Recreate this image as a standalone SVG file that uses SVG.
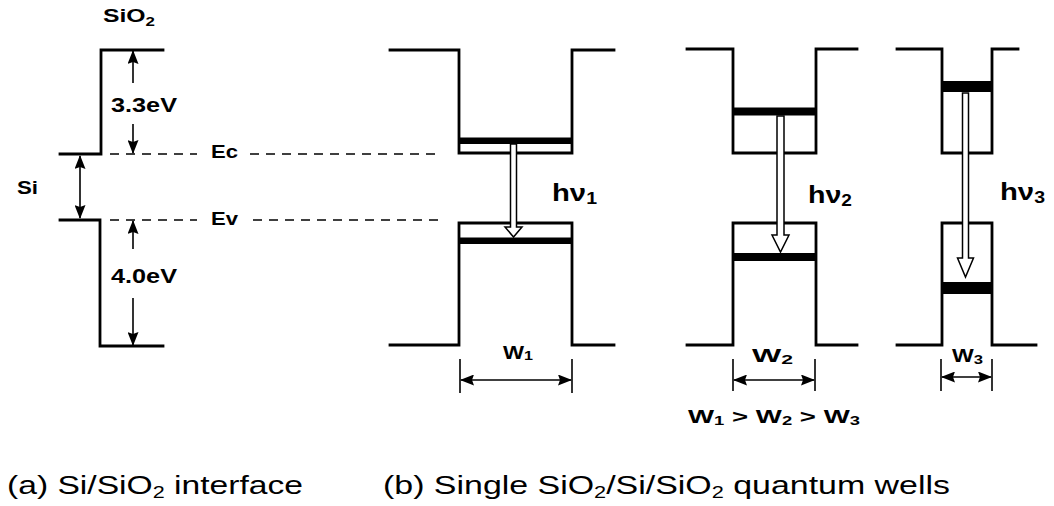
<svg xmlns="http://www.w3.org/2000/svg" width="1054" height="506" viewBox="0 0 1054 506">
<defs>
<style>
.ln{fill:none;stroke:#000;stroke-width:2.8;stroke-linecap:square}
.dash{fill:none;stroke:#000;stroke-width:1.5;stroke-dasharray:9 7}
.thin{fill:none;stroke:#000;stroke-width:1.6}
.bar{fill:#000}
.hollow{fill:#fff;stroke:#000;stroke-width:1.5;stroke-linejoin:miter}
.b{font-family:"Liberation Sans",Arial,sans-serif;font-weight:bold;fill:#000}
.cap{font-family:"Liberation Sans",Arial,sans-serif;fill:#000;font-size:25px}
</style>
<marker id="ah" viewBox="0 0 14 11" refX="13" refY="5.5" markerWidth="14" markerHeight="11" markerUnits="userSpaceOnUse" orient="auto-start-reverse">
<path d="M0,0 L14,5.5 L0,11 L2,5.5 Z" fill="#000"/>
</marker>
</defs>

<g id="interface">
<path class="ln" d="M163,50 H101 V154 H60"/>
<path class="ln" d="M60,220 H100 V346 H163"/>
<line class="dash" x1="110" y1="154" x2="197" y2="154"/>
<line class="dash" x1="250" y1="154" x2="440" y2="154"/>
<line class="dash" x1="110" y1="220" x2="197" y2="220"/>
<line class="dash" x1="253" y1="220" x2="440" y2="220"/>
<text class="b" x="103" y="22" font-size="19" textLength="52" lengthAdjust="spacingAndGlyphs">SiO<tspan font-size="13" dy="4">2</tspan></text>
<text class="b" x="111" y="112" font-size="20" textLength="66" lengthAdjust="spacingAndGlyphs">3.3eV</text>
<text class="b" x="111" y="283" font-size="20" textLength="66" lengthAdjust="spacingAndGlyphs">4.0eV</text>
<text class="b" x="211" y="158" font-size="18" textLength="27" lengthAdjust="spacingAndGlyphs">Ec</text>
<text class="b" x="211" y="225" font-size="18" textLength="27" lengthAdjust="spacingAndGlyphs">Ev</text>
<text class="b" x="17" y="194" font-size="18" textLength="21" lengthAdjust="spacingAndGlyphs">Si</text>
</g>

<g id="well1">
<path class="ln" d="M390,50 H459 V153 H572 V50 H614"/>
<path class="ln" d="M390,345 H459 V223 H572 V345 H614"/>
<rect class="bar" x="459" y="137.5" width="113" height="6.5"/>
<rect class="bar" x="459" y="237.5" width="113" height="6.5"/>
<text class="b" x="552" y="201" font-size="24" textLength="45" lengthAdjust="spacingAndGlyphs">hν<tspan font-size="16" dy="3">1</tspan></text>
<text class="b" x="503" y="359" font-size="18" textLength="30" lengthAdjust="spacingAndGlyphs">W<tspan font-size="13" dy="1">1</tspan></text>
</g>

<g id="well2">
<path class="ln" d="M687,49 H733 V153 H816 V49 H857"/>
<path class="ln" d="M687,345 H733 V223 H816 V345 H857"/>
<rect class="bar" x="733" y="107.5" width="83" height="8"/>
<rect class="bar" x="733" y="253" width="83" height="8"/>
<text class="b" x="808" y="203" font-size="24" textLength="44" lengthAdjust="spacingAndGlyphs">hν<tspan font-size="16" dy="3">2</tspan></text>
<text class="b" x="752" y="362" font-size="19" textLength="41" lengthAdjust="spacingAndGlyphs">W<tspan font-size="13" dy="2">2</tspan></text>
</g>

<g id="well3">
<path class="ln" d="M897,49 H942 V153 H992 V49 H1018"/>
<path class="ln" d="M897,345 H942 V223 H992 V345 H1036"/>
<rect class="bar" x="942" y="81" width="50" height="11"/>
<rect class="bar" x="942" y="282" width="50" height="12"/>
<text class="b" x="1000" y="200" font-size="24" textLength="45" lengthAdjust="spacingAndGlyphs">hν<tspan font-size="16" dy="3">3</tspan></text>
<text class="b" x="952" y="362" font-size="18" textLength="31" lengthAdjust="spacingAndGlyphs">W<tspan font-size="13" dy="2">3</tspan></text>
</g>

<g id="connectors">
<line class="thin" x1="133" y1="83" x2="133" y2="51" marker-end="url(#ah)"/>
<line class="thin" x1="133" y1="124" x2="133" y2="153" marker-end="url(#ah)"/>
<line class="thin" x1="80" y1="156" x2="80" y2="218" marker-start="url(#ah)" marker-end="url(#ah)"/>
<line class="thin" x1="133" y1="249" x2="133" y2="221" marker-end="url(#ah)"/>
<line class="thin" x1="133" y1="298" x2="133" y2="345" marker-end="url(#ah)"/>
<path class="hollow" d="M510.5,144 V227 H505 L513.5,237 L522,227 H516.5 V144 Z"/>
<path class="hollow" d="M777,116 V235 H772 L780.5,252 L789,235 H784 V116 Z"/>
<path class="hollow" d="M962.5,93 V258 H957.5 L965.5,277 L973.5,258 H968.5 V93 Z"/>
<line class="thin" x1="460" y1="359" x2="460" y2="393"/>
<line class="thin" x1="572" y1="359" x2="572" y2="393"/>
<line class="thin" x1="461" y1="380" x2="571" y2="380" marker-start="url(#ah)" marker-end="url(#ah)"/>
<line class="thin" x1="733" y1="359" x2="733" y2="391"/>
<line class="thin" x1="815" y1="359" x2="815" y2="391"/>
<line class="thin" x1="734" y1="380" x2="814" y2="380" marker-start="url(#ah)" marker-end="url(#ah)"/>
<line class="thin" x1="941" y1="359" x2="941" y2="391"/>
<line class="thin" x1="992" y1="359" x2="992" y2="391"/>
<line class="thin" x1="942" y1="377" x2="991" y2="377" marker-start="url(#ah)" marker-end="url(#ah)"/>
</g>

<g id="labels">
<text class="b" x="688" y="423" font-size="18" textLength="172" lengthAdjust="spacingAndGlyphs">W<tspan font-size="12" dy="2">1</tspan><tspan dy="-2"> &gt;  W</tspan><tspan font-size="12" dy="2">2</tspan><tspan dy="-2"> &gt;  W</tspan><tspan font-size="12" dy="2">3</tspan></text>
<text class="cap" x="7" y="494" textLength="296" lengthAdjust="spacingAndGlyphs">(a) Si/SiO<tspan font-size="16" dy="4">2</tspan><tspan dy="-4"> interface</tspan></text>
<text class="cap" x="383" y="494" textLength="567" lengthAdjust="spacingAndGlyphs">(b) Single SiO<tspan font-size="16" dy="4">2</tspan><tspan dy="-4">/Si/SiO</tspan><tspan font-size="16" dy="4">2</tspan><tspan dy="-4"> quantum wells</tspan></text>
</g>
</svg>
